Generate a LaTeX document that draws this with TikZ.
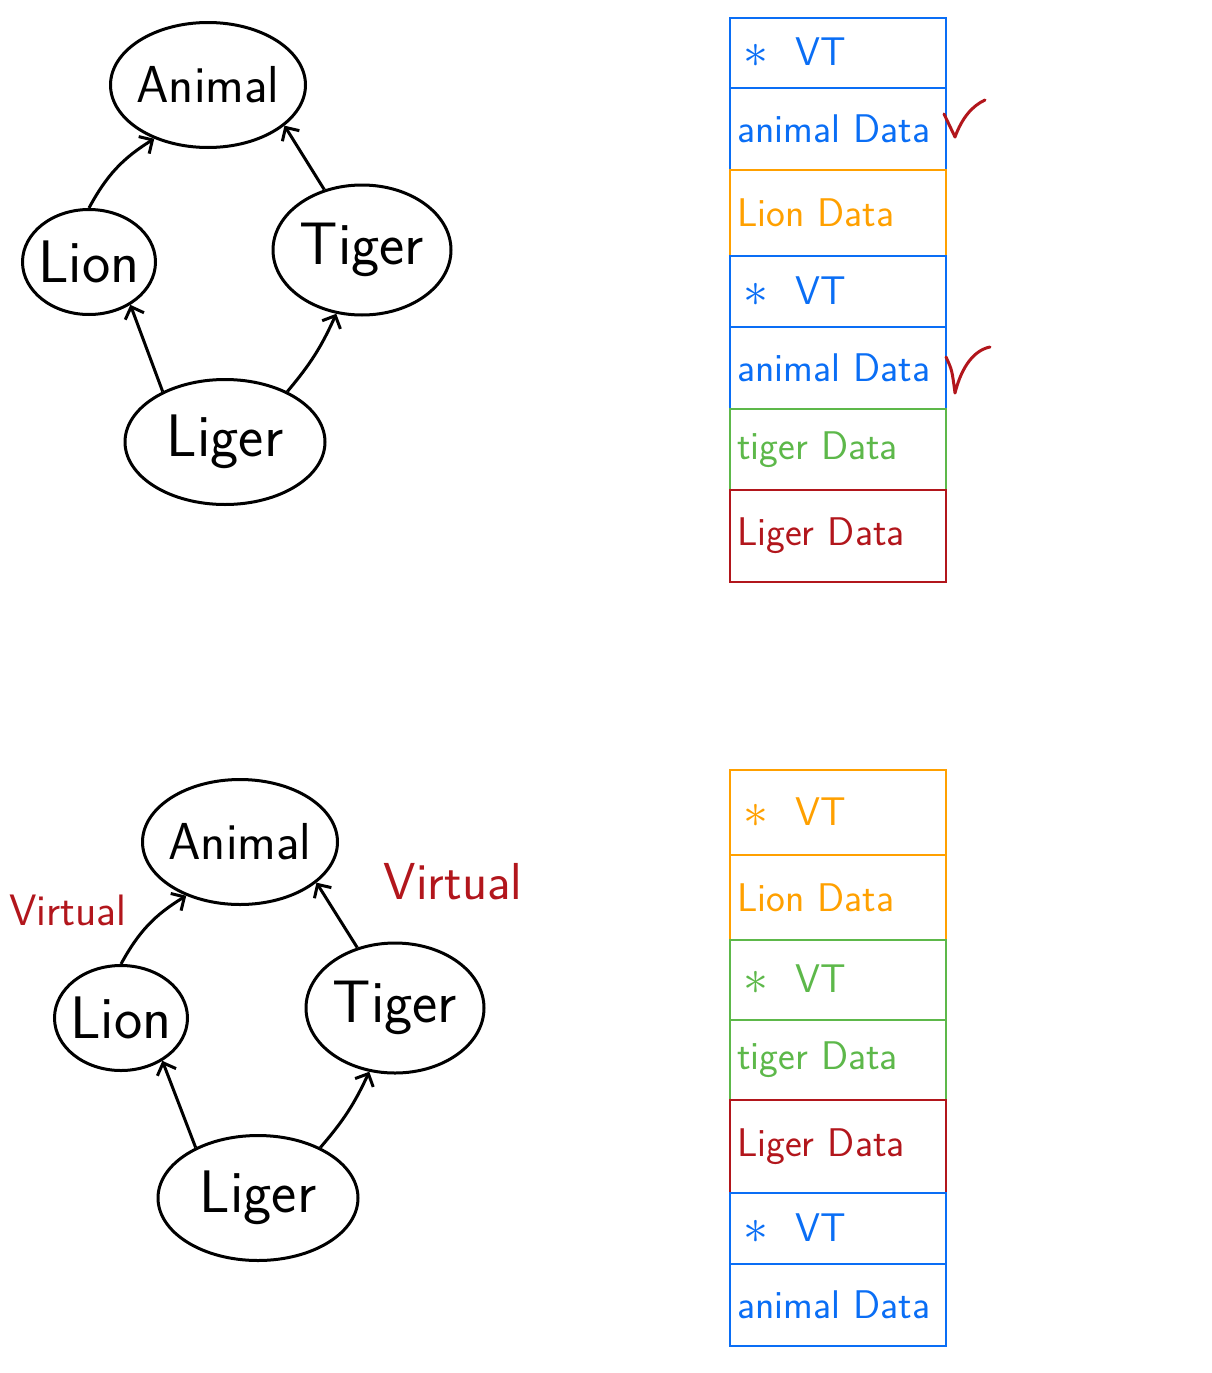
\documentclass[tikz,border=0pt]{standalone}
\usepackage{tikz}
\usetikzlibrary{shapes,arrows.meta,positioning}
\definecolor{vtblue}{RGB}{10,110,245}
\definecolor{lionorange}{RGB}{255,160,0}
\definecolor{tigergreen}{RGB}{93,184,74}
\definecolor{ligerred}{RGB}{178,22,28}
\tikzstyle{beast}=[ellipse,draw=black,line width=3pt,inner ysep=0pt,inner xsep=-4pt,
  font=\sffamily\fontsize{60}{64}\selectfont]
\tikzstyle{cell}=[rectangle,line width=1.8pt,minimum width=216pt,text width=202pt,
  inner xsep=7pt,outer sep=0pt,align=left,font=\sffamily\fontsize{40}{44}\selectfont]
\tikzstyle{link}=[->,black,line width=3pt]
\tikzstyle{checkmark}=[ligerred,line width=3pt,line cap=round,line join=round]
\tikzstyle{virt}=[ligerred,font=\sffamily\fontsize{44}{48}\selectfont]
\newcommand{\vtxt}{\,\raisebox{-2pt}{\scalebox{2}{$\ast$}}\ \ VT}

\begin{document}
\begin{tikzpicture}[x=1pt,y=-1pt,>={Straight Barb[length=10pt,width=20pt]}]
	\useasboundingbox (0,0) rectangle (1212,1373);

	% single inheritance
	\node[beast,minimum width=195pt,minimum height=125pt,font=\sffamily\fontsize{52}{56}\selectfont] (animal) at (208,85) {Animal};
	\node[beast,minimum width=133pt,minimum height=105pt] (lion) at (89,262) {Lion};
	\node[beast,minimum width=178pt,minimum height=130pt] (tiger) at (362,250) {Tiger};
	\node[beast,minimum width=200pt,minimum height=125pt] (liger) at (225,442) {Liger};

  \path [link]
		(lion.90) edge [bend left=15] (animal.225);
  \path [link]
		(tiger.122) edge (animal.-28);
  \path [link]
		(liger.141) edge (lion.-46);
  \path [link]
		(liger.39) edge [bend right=8] (tiger.-112);

	\node[cell,draw=vtblue,text=vtblue,minimum height=70pt,anchor=north west] (vt1) at (730,18) {\vtxt};
	\node[cell,draw=vtblue,text=vtblue,minimum height=82pt,below=0pt of vt1] (ad1) {animal Data};
	\node[cell,draw=lionorange,text=lionorange,minimum height=86pt,below=0pt of ad1] (ld1) {Lion Data};
	\node[cell,draw=vtblue,text=vtblue,minimum height=71pt,below=0pt of ld1] (vt2) {\vtxt};
	\node[cell,draw=vtblue,text=vtblue,minimum height=82pt,below=0pt of vt2] (ad2) {animal Data};
	\node[cell,draw=tigergreen,text=tigergreen,minimum height=81pt,below=0pt of ad2] (td1) {tiger Data};
	\node[cell,draw=ligerred,text=ligerred,minimum height=92pt,below=0pt of td1] (gd1) {Liger Data};

	\draw[checkmark] (944,114) -- (955,137) .. controls (962,118) and (972,106) .. (985,100);
	\draw[checkmark] (946,357) .. controls (952,370) .. (955,393) .. controls (962,365) and (975,350) .. (990,347);

	% virtual inheritance
	\node[beast,minimum width=195pt,minimum height=125pt,font=\sffamily\fontsize{52}{56}\selectfont] (vanimal) at (240,842) {Animal};
	\node[beast,minimum width=133pt,minimum height=105pt] (vlion) at (121,1018) {Lion};
	\node[beast,minimum width=178pt,minimum height=130pt] (vtiger) at (395,1008) {Tiger};
	\node[beast,minimum width=200pt,minimum height=125pt] (vliger) at (258,1198) {Liger};

	\node[virt] (virtl) at (68,910) {Virtual};
	\node[virt,font=\sffamily\fontsize{52}{56}\selectfont] (virtr) at (453,882) {Virtual};

  \path [link]
		(vlion.90) edge [bend left=15] (vanimal.225);
  \path [link]
		(vtiger.122) edge (vanimal.-28);
  \path [link]
		(vliger.141) edge (vlion.-46);
  \path [link]
		(vliger.39) edge [bend right=8] (vtiger.-112);

	\node[cell,draw=lionorange,text=lionorange,minimum height=85pt,anchor=north west] (vt3) at (730,770) {\vtxt};
	\node[cell,draw=lionorange,text=lionorange,minimum height=85pt,below=0pt of vt3] (ld2) {Lion Data};
	\node[cell,draw=tigergreen,text=tigergreen,minimum height=80pt,below=0pt of ld2] (vt4) {\vtxt};
	\node[cell,draw=tigergreen,text=tigergreen,minimum height=80pt,below=0pt of vt4] (td2) {tiger Data};
	\node[cell,draw=ligerred,text=ligerred,minimum height=93pt,below=0pt of td2] (gd2) {Liger Data};
	\node[cell,draw=vtblue,text=vtblue,minimum height=71pt,below=0pt of gd2] (vt5) {\vtxt};
	\node[cell,draw=vtblue,text=vtblue,minimum height=82pt,below=0pt of vt5] (ad3) {animal Data};
\end{tikzpicture}
\end{document}
